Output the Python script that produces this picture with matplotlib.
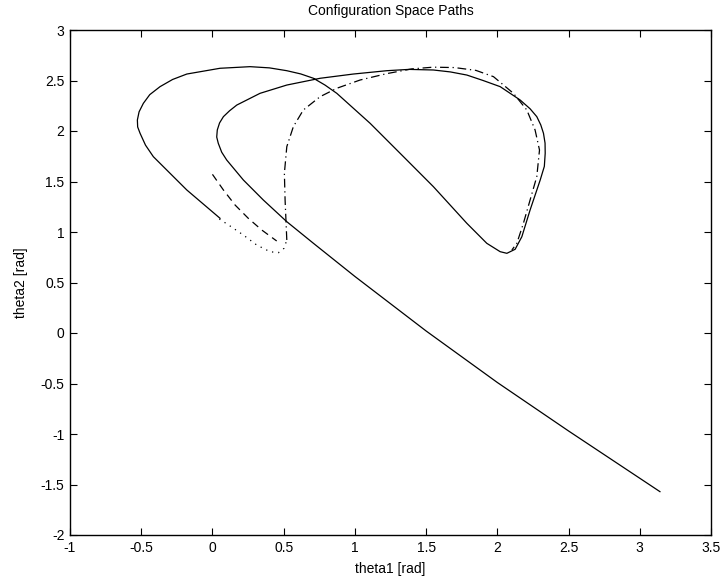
import matplotlib
matplotlib.use("Agg")
import matplotlib.pyplot as plt
import numpy as np

plt.rcParams['font.family'] = ['Liberation Sans', 'DejaVu Sans']

# path values (theta1, theta2 in rad)
solid_t1 = [0.053, -0.180, -0.415, -0.470, -0.508, -0.525, -0.527, -0.515, -0.485, -0.440,
            -0.368, -0.280, -0.180, 0.053, 0.264, 0.400, 0.522, 0.620, 0.709, 0.790,
            0.873, 1.107, 1.341, 1.551, 1.786, 1.926, 2.020, 2.067, 2.125, 2.172,
            2.230, 2.301, 2.330, 2.336, 2.335, 2.324, 2.305, 2.277, 2.230, 2.160,
            2.020, 1.900, 1.786, 1.670, 1.551, 1.380, 1.224, 0.989, 0.756, 0.522,
            0.334, 0.171, 0.120, 0.077, 0.050, 0.034, 0.030, 0.041, 0.065, 0.100,
            0.217, 0.357, 0.522, 0.709, 1.000, 1.500, 2.000, 2.500, 3.1416]
solid_t2 = [1.136, 1.416, 1.746, 1.860, 1.977, 2.040, 2.109, 2.190, 2.274, 2.360,
            2.439, 2.510, 2.564, 2.621, 2.637, 2.625, 2.597, 2.565, 2.522, 2.455,
            2.373, 2.076, 1.746, 1.449, 1.086, 0.888, 0.805, 0.789, 0.829, 0.953,
            1.218, 1.515, 1.650, 1.779, 1.880, 1.977, 2.060, 2.142, 2.220, 2.307,
            2.439, 2.500, 2.554, 2.585, 2.604, 2.610, 2.597, 2.564, 2.522, 2.455,
            2.373, 2.257, 2.200, 2.142, 2.080, 2.010, 1.940, 1.878, 1.790, 1.713,
            1.515, 1.317, 1.102, 0.888, 0.560, 0.020, -0.490, -0.970, -1.5708]

dashed_t1 = [0.0, 0.077, 0.159, 0.252, 0.346, 0.451]
dashed_t2 = [1.5708, 1.416, 1.267, 1.135, 1.020, 0.911]

dotted_t1 = [0.048, 0.124, 0.217, 0.311, 0.404, 0.463, 0.503, 0.522]
dotted_t2 = [1.129, 1.059, 0.970, 0.871, 0.805, 0.795, 0.839, 0.921]

dashdot_t1 = [0.522, 0.510, 0.505, 0.522, 0.568, 0.638, 0.756, 0.873, 1.037, 1.224,
              1.400, 1.550, 1.700, 1.850, 1.973, 2.113, 2.207, 2.265, 2.296, 2.277,
              2.230, 2.183, 2.137, 2.102]
dashdot_t2 = [0.921, 1.317, 1.581, 1.845, 2.043, 2.208, 2.340, 2.423, 2.505, 2.568,
              2.615, 2.632, 2.628, 2.600, 2.538, 2.373, 2.208, 2.010, 1.812, 1.548,
              1.317, 1.086, 0.888, 0.822]

fig = plt.figure(figsize=(7.26, 5.86), dpi=100)
ax = fig.add_axes([70/726, 1 - 535/586, 641/726, 505/586])

ax.plot(solid_t1, solid_t2, color='black', lw=0.9, ls='-')
ax.plot(dashed_t1, dashed_t2, color='black', lw=0.9, ls=(0, (6, 4)))
ax.plot(dotted_t1, dotted_t2, color='black', lw=0.9, ls=(0, (1, 4)))
ax.plot(dashdot_t1, dashdot_t2, color='black', lw=0.9, ls=(0, (7, 3, 1, 3)))

ax.set_xlim(-1, 3.5)
ax.set_ylim(-2, 3)
ax.set_xticks(np.arange(-1, 3.51, 0.5))
ax.set_yticks(np.arange(-2, 3.01, 0.5))
ax.set_xticklabels(['-1', '-0.5', '0', '0.5', '1', '1.5', '2', '2.5', '3', '3.5'])
ax.set_yticklabels(['-2', '-1.5', '-1', '-0.5', '0', '0.5', '1', '1.5', '2', '2.5', '3'])
ax.tick_params(direction='in', length=5, width=0.8, top=True, right=True,
               labelsize=10, pad=4)
for s in ax.spines.values():
    s.set_linewidth(1.0)

ax.set_title('Configuration Space Paths', fontsize=10, pad=11)
ax.set_xlabel('theta1 [rad]', fontsize=10, labelpad=5)
ax.set_ylabel('theta2 [rad]', fontsize=10, labelpad=9)

fig.savefig('out.png', dpi=100)
